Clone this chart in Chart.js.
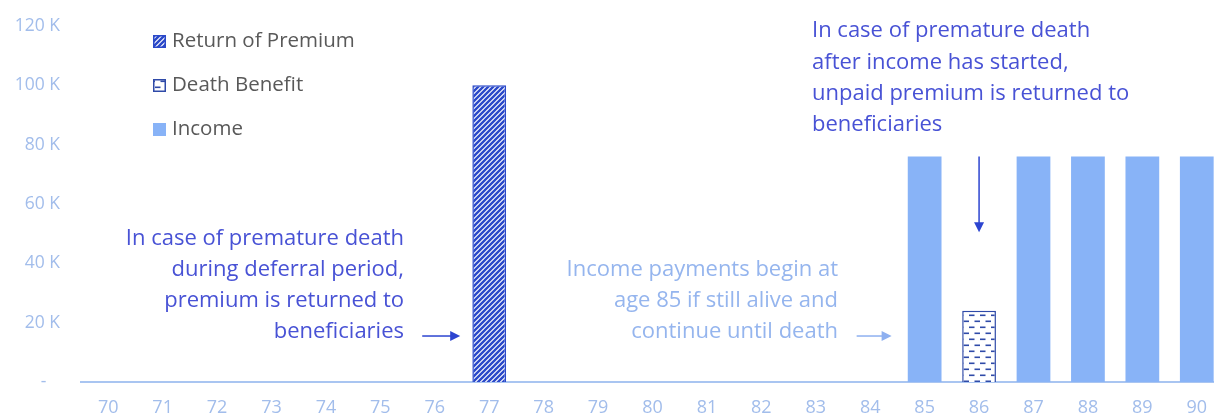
<!DOCTYPE html>
<html>
<head>
<meta charset="utf-8">
<script src="https://cdn.jsdelivr.net/npm/chart.js@4.4.1/dist/chart.umd.min.js"></script>
<style>
    html, body { margin: 0; padding: 0; background: #ffffff; overflow: hidden; }
    #wrap { width: 1224px; height: 419px; }
</style>
</head>
<body>
<div id="wrap"><canvas id="myChart" width="1224" height="419"></canvas></div>
<script>
// ages on the x axis and the three payout series (null = nothing paid that year)
const ages = ['70', '71', '72', '73', '74', '75', '76', '77', '78', '79', '80',
              '81', '82', '83', '84', '85', '86', '87', '88', '89', '90'];
const returnOfPremium = [null, null, null, null, null, null, null, 100000, null, null, null,
                         null, null, null, null, null, null, null, null, null, null];
const deathBenefit = [null, null, null, null, null, null, null, null, null, null, null,
                      null, null, null, null, null, 24000, null, null, null, null];
const income = [null, null, null, null, null, null, null, null, null, null, null,
                null, null, null, null, 76000, null, 76000, 76000, 76000, 76000];
const yTicks = [0, 20000, 40000, 60000, 80000, 100000, 120000];

const COLORS = {
    hatch: '#2b49c9',
    dash: '#2f4aa8',
    income: '#88b3f7',
    tick: '#a2bdeb',
    axis: '#a9c5f1',
    darkText: '#4852d5',
    lightText: '#95b5ee',
    darkArrow: '#2c44d0',
    lightArrow: '#8eb0f0',
    legendText: '#595959'
};
const FONT = '"Open Sans", "Noto Sans", sans-serif';

// diagonal stripes for the return-of-premium bar
function hatchPattern() {
    const c = document.createElement('canvas');
    c.width = 5; c.height = 5;
    const g = c.getContext('2d');
    g.fillStyle = '#ffffff';
    g.fillRect(0, 0, 5, 5);
    g.strokeStyle = COLORS.hatch;
    g.lineWidth = 2.4;
    g.beginPath();
    g.moveTo(-1, 6); g.lineTo(6, -1);
    g.moveTo(-1, 1); g.lineTo(1, -1);
    g.moveTo(4, 6); g.lineTo(6, 4);
    g.stroke();
    return g.createPattern(c, 'repeat');
}

// staggered short dashes for the death benefit bar
function dashPattern() {
    const c = document.createElement('canvas');
    c.width = 11; c.height = 12;
    const g = c.getContext('2d');
    g.fillStyle = '#ffffff';
    g.fillRect(0, 0, 11, 12);
    g.fillStyle = COLORS.dash;
    g.fillRect(1, 2.5, 5.5, 1.6);
    g.fillRect(6.5, 8.5, 5.5, 1.6);
    g.fillRect(-4.5, 8.5, 5.5, 1.6);
    return g.createPattern(c, 'repeat');
}

const hatch = hatchPattern();
const dashes = dashPattern();

function drawArrow(ctx, x1, y1, x2, y2, color) {
    const ang = Math.atan2(y2 - y1, x2 - x1);
    const len = 10, half = 5;
    ctx.save();
    ctx.strokeStyle = color;
    ctx.fillStyle = color;
    ctx.lineWidth = 1.5;
    ctx.beginPath();
    ctx.moveTo(x1, y1);
    ctx.lineTo(x2 - Math.cos(ang) * len * 0.8, y2 - Math.sin(ang) * len * 0.8);
    ctx.stroke();
    ctx.translate(x2, y2);
    ctx.rotate(ang);
    ctx.beginPath();
    ctx.moveTo(0, 0);
    ctx.lineTo(-len, -half);
    ctx.lineTo(-len, half);
    ctx.closePath();
    ctx.fill();
    ctx.restore();
}

function drawLines(ctx, lines, x, y, step, align, color) {
    ctx.save();
    ctx.font = '22px ' + FONT;
    ctx.fillStyle = color;
    ctx.textAlign = align;
    ctx.textBaseline = 'middle';
    lines.forEach((t, i) => ctx.fillText(t, x, y + i * step));
    ctx.restore();
}

// vertical legend in the upper left plus the explanatory notes and arrows
const notes = {
    id: 'notes',
    afterDraw(chart) {
        const ctx = chart.ctx;
        const xs = chart.scales.x;
        const ys = chart.scales.y;

        // legend
        ctx.save();
        ctx.font = '20.5px ' + FONT;
        ctx.textBaseline = 'middle';
        chart.data.datasets.forEach((ds, i) => {
            const cy = 41 + i * 44;
            ctx.fillStyle = ds.backgroundColor;
            ctx.fillRect(153, cy - 6, 13, 13);
            if (ds.borderWidth) {
                ctx.strokeStyle = ds.borderColor;
                ctx.lineWidth = 1.5;
                ctx.strokeRect(153.75, cy - 5.25, 11.5, 11.5);
            }
            ctx.fillStyle = COLORS.legendText;
            ctx.fillText(ds.label, 172, cy);
        });
        ctx.restore();

        const half = 17;
        const x77 = xs.getPixelForValue(7);
        const x85 = xs.getPixelForValue(15);
        const x86 = xs.getPixelForValue(16);
        const yArrow = ys.getPixelForValue(15500);

        drawLines(ctx, ['In case of premature death', 'during deferral period,',
                        'premium is returned to', 'beneficiaries'],
                  404, 239, 31, 'right', COLORS.darkText);
        drawArrow(ctx, x77 - half - 50, yArrow, x77 - half - 12, yArrow, COLORS.darkArrow);

        drawLines(ctx, ['Income payments begin at', 'age 85 if still alive and',
                        'continue until death'],
                  838, 270, 31, 'right', COLORS.lightText);
        drawArrow(ctx, x85 - half - 51, yArrow, x85 - half - 16, yArrow, COLORS.lightArrow);

        drawLines(ctx, ['In case of premature death', 'after income has started,',
                        'unpaid premium is returned to', 'beneficiaries'],
                  812, 31, 31.3, 'left', COLORS.darkText);
        drawArrow(ctx, x86, ys.getPixelForValue(76000), x86, ys.getPixelForValue(50500), COLORS.darkArrow);
    }
};

const data = {
    labels: ages,
    datasets: [
        {
            label: 'Return of Premium',
            data: returnOfPremium,
            backgroundColor: hatch,
            borderColor: COLORS.hatch,
            borderWidth: 1.5
        },
        {
            label: 'Death Benefit',
            data: deathBenefit,
            backgroundColor: dashes,
            borderColor: COLORS.dash,
            borderWidth: 1.5
        },
        {
            label: 'Income',
            data: income,
            backgroundColor: COLORS.income,
            borderWidth: 0
        }
    ]
};

const config = {
    type: 'bar',
    data: data,
    options: {
        responsive: false,
        animation: false,
        categoryPercentage: 0.62,
        barPercentage: 1,
        layout: { padding: { top: 26, left: 0, right: 0, bottom: 0 } },
        plugins: {
            legend: { display: false },
            tooltip: { enabled: false }
        },
        scales: {
            x: {
                stacked: true,
                afterFit: s => { s.height = 37; },
                grid: { display: false, drawTicks: false },
                border: { display: true, color: COLORS.axis, width: 2 },
                ticks: {
                    color: COLORS.tick,
                    font: { family: FONT, size: 18 },
                    padding: 15,
                    maxRotation: 0,
                    autoSkip: false
                }
            },
            y: {
                stacked: true,
                min: 0,
                max: 120000,
                afterFit: s => {
                    s.width = 81;
                    s.paddingTop = 0;
                    s.paddingBottom = 0;
                },
                afterBuildTicks: s => { s.ticks = yTicks.map(v => ({ value: v })); },
                grid: { display: false, drawTicks: false },
                border: { display: false },
                ticks: {
                    color: COLORS.tick,
                    font: { family: FONT, size: 17.5 },
                    padding: 21,
                    callback: v => v === 0 ? '-   ' : (v / 1000) + ' K'
                }
            }
        }
    },
    plugins: [notes]
};

window.onload = function() {
    const ctx = document.getElementById('myChart').getContext('2d');
    new Chart(ctx, config);
};
</script>
</body>
</html>
